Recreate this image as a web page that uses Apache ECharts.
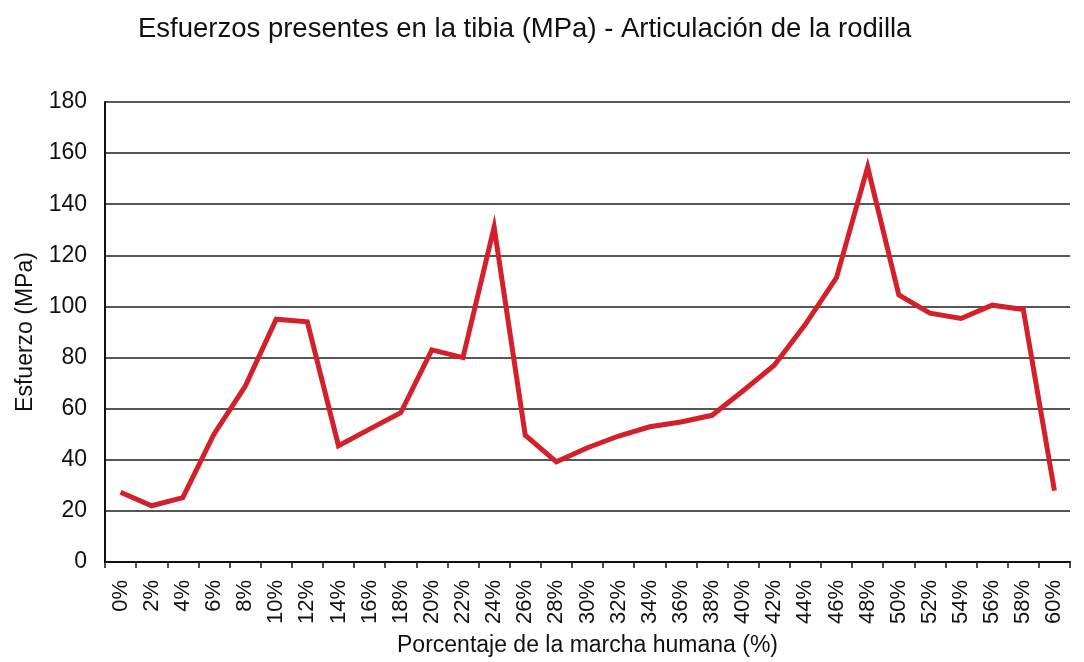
<!DOCTYPE html>
<html>
<head>
<meta charset="utf-8">
<script src="https://cdn.jsdelivr.net/npm/echarts@6/dist/echarts.min.js"></script>
<style>
  html, body { margin: 0; padding: 0; background: #fff; }
  #main { width: 1084px; height: 662px; }
</style>
</head>
<body>
<div id="main"></div>
<script>
// porcentaje de la marcha humana (categorías del eje x)
const categorias = ['0%', '2%', '4%', '6%', '8%', '10%', '12%', '14%', '16%', '18%',
  '20%', '22%', '24%', '26%', '28%', '30%', '32%', '34%', '36%', '38%',
  '40%', '42%', '44%', '46%', '48%', '50%', '52%', '54%', '56%', '58%', '60%']

// esfuerzo en la tibia (MPa)
const esfuerzo = [27.3, 22, 25.2, 50, 68.7, 95, 94, 45.5, 52, 58.4,
  83, 80, 131, 49.6, 39.2, 44.7, 49.3, 52.9, 54.8, 57.4,
  67, 77, 93, 111.3, 154.5, 104.5, 97.4, 95.3, 100.5, 98.8, 27.9]

const fuente = 'Liberation Sans, Arial, sans-serif'
const negro = '#111'

const myChart = echarts.init(document.getElementById('main'))
const option = {
  animation: false,
  title: {
    text: 'Esfuerzos presentes en la tibia (MPa) - Articulación de la rodilla',
    left: 133,
    top: 10,
    textStyle: { fontFamily: fuente, fontSize: 27.5, fontWeight: 'normal', color: negro }
  },
  grid: { left: 105, right: 14, top: 102, bottom: 98 },
  xAxis: {
    type: 'category',
    data: categorias,
    boundaryGap: true,
    name: 'Porcentaje de la marcha humana (%)',
    nameLocation: 'middle',
    nameGap: 72,
    nameTextStyle: { fontFamily: fuente, fontSize: 23, color: negro },
    axisLine: { lineStyle: { color: negro, width: 2 } },
    axisTick: { show: true, interval: 0, length: 6, lineStyle: { color: negro, width: 1.5 } },
    axisLabel: {
      interval: 0,
      rotate: 90,
      margin: 18,
      fontFamily: fuente,
      fontSize: 22,
      color: negro
    }
  },
  yAxis: {
    type: 'value',
    min: 0,
    max: 180,
    interval: 20,
    name: 'Esfuerzo (MPa)',
    nameLocation: 'middle',
    nameGap: 68,
    nameTextStyle: { fontFamily: fuente, fontSize: 23, color: negro },
    axisLine: { show: true, lineStyle: { color: negro, width: 2 } },
    axisTick: { show: false },
    axisLabel: { margin: 18, fontFamily: fuente, fontSize: 23, color: negro },
    splitLine: { show: true, lineStyle: { color: '#1e1e1e', width: 1.6 } }
  },
  series: [{
    name: 'Esfuerzo',
    type: 'line',
    data: esfuerzo,
    symbol: 'none',
    smooth: false,
    lineStyle: { color: '#d3202a', width: 5, join: 'miter', cap: 'butt' },
    itemStyle: { color: '#d3202a' }
  }]
}
myChart.setOption(option)
</script>
</body>
</html>
